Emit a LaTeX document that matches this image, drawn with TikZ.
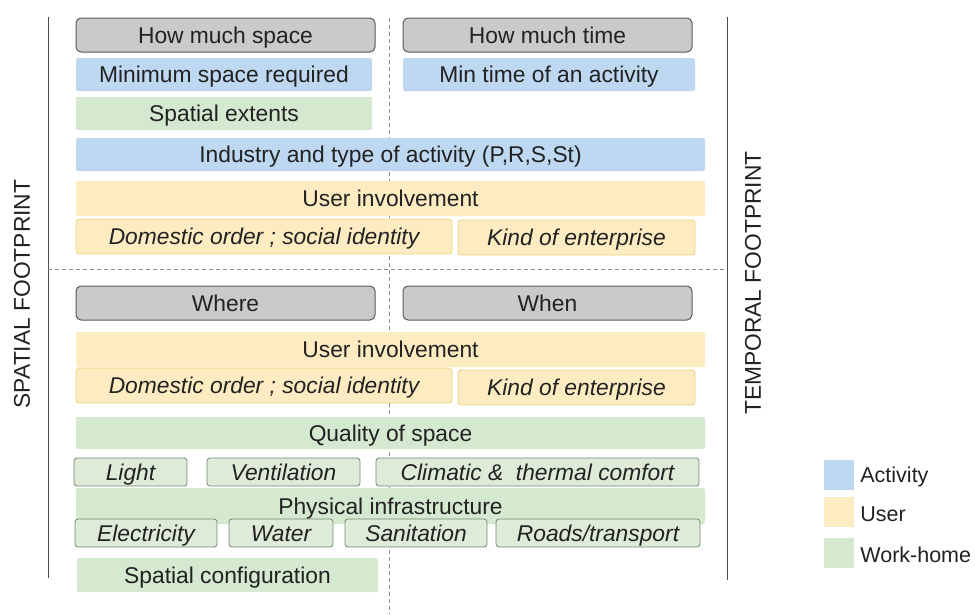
\documentclass[tikz,border=0pt]{standalone}
\usepackage{fontspec}
\setmainfont{Liberation Sans}
\usetikzlibrary{arrows,shapes}
\pgfdeclarelayer{background}
\pgfsetlayers{background,main}
\definecolor{qgray}{HTML}{CACACA}
\definecolor{qgrayline}{HTML}{595959}
\definecolor{qblue}{HTML}{BDD8F0}
\definecolor{quser}{HTML}{FDEBC2}
\definecolor{quserline}{HTML}{E9D47C}
\definecolor{qgreen}{HTML}{D5E8D0}
\definecolor{qsub}{HTML}{DEEBD9}
\definecolor{qsubline}{HTML}{718A6B}
\definecolor{qtext}{HTML}{222222}
\tikzstyle{question}=[draw=qgrayline,fill=qgray,line width=1pt,rounded corners=5pt,minimum height=34pt,inner sep=0pt,text=qtext,text height=16pt,text depth=0pt]
\tikzstyle{band}=[rounded corners=2pt,minimum height=33pt,inner sep=0pt,text=qtext,text height=16pt,text depth=0pt]
\tikzstyle{userbox}=[draw=quserline,fill=quser,line width=0.8pt,rounded corners=3pt,minimum height=35pt,inner sep=0pt,text=qtext,text height=16pt,text depth=0pt,font=\fontsize{22.8}{27}\selectfont\itshape]
\tikzstyle{subbox}=[draw=qsubline,fill=qsub,line width=0.8pt,rounded corners=3pt,minimum height=28pt,inner sep=0pt,text=qtext,text height=16pt,text depth=0pt,font=\fontsize{22.8}{27}\selectfont\itshape]
\tikzstyle{legend}=[minimum size=30pt,inner sep=0pt]
\tikzstyle{frame} = [draw,line width=1pt,qtext!80]
\tikzstyle{divider} = [draw,line width=0.6pt,black!45,dash pattern=on 4pt off 3pt]

\begin{document}
\begin{tikzpicture}[x=1pt,y=-1pt,font=\fontsize{22.8}{27}\selectfont]
    \useasboundingbox (0,0) rectangle (975,614);
    % Frame lines and dashed dividers
    \coordinate (sptop) at (48,17);
    \coordinate (spbot) at (48,578);
    \coordinate (tptop) at (727,17);
    \coordinate (tpbot) at (727,580);
    \coordinate (midleft) at (48,269);
    \coordinate (midright) at (726,269);
    \coordinate (midtop) at (389,18);
    \coordinate (midbot) at (389,614);
    \begin{pgfonlayer}{background}
        \path[frame] (sptop) -- (spbot);
        \path[frame] (tptop) -- (tpbot);
        \path[divider] (midleft) -- (midright);
        \path[divider] (midtop) -- (midbot);
    \end{pgfonlayer}
    % Axis titles
    \node[rotate=90,text=qtext] (spatial) at (22,294) {SPATIAL FOOTPRINT};
    \node[rotate=90,text=qtext] (temporal) at (753,283) {TEMPORAL FOOTPRINT};
    % Questions
    \foreach \pos/\w/\name/\txt in {{(225.5,35)/299/space/How much space}, {(547.5,35)/289/time/How much time},
        {(225.5,303)/299/where/Where}, {(547.5,303)/289/when/When}}
        \node[question,minimum width=\w] (\name) at \pos {\txt};
    % Activity bands
    \foreach \pos/\w/\name/\txt in {{(224,74.5)/296/minspace/Minimum space required}, {(549,74.5)/292/mintime/Min time of an activity},
        {(390.5,154.5)/629/industry/{Industry and type of activity (P,R,S,St)}}}
        \node[band,fill=qblue,minimum width=\w] (\name) at \pos {\txt};
    % User bands
    \foreach \pos/\name in {{(390.5,198.5)/userA}, {(390.5,349.5)/userB}}
        \node[band,fill=quser,minimum width=629,minimum height=35] (\name) at \pos {User involvement};
    \foreach \pos/\w/\name/\txt in {{(264,236.5)/376/domA/Domestic order ; social identity}, {(576.5,237.5)/237/kindA/Kind of enterprise},
        {(264,385.5)/376/domB/Domestic order ; social identity}, {(576.5,387.5)/237/kindB/Kind of enterprise}}
        \node[userbox,minimum width=\w] (\name) at \pos {\txt};
    % Work-home bands
    \foreach \pos/\w/\h/\name/\txt in {{(224,113.5)/296/33/extents/Spatial extents}, {(390.5,433)/629/32/quality/Quality of space},
        {(390.5,506)/629/36/physical/Physical infrastructure}, {(227.5,575)/301/34/config/Spatial configuration}}
        \node[band,fill=qgreen,minimum width=\w,minimum height=\h] (\name) at \pos {\txt};
    \foreach \pos/\w/\name/\txt in {{(130.5,472)/113/light/Light}, {(283.5,472)/153/vent/Ventilation},
        {(537.5,472)/323/climate/Climatic \&\ \ thermal comfort},
        {(146,533)/142/elec/Electricity}, {(281,533)/104/water/Water},
        {(416,533)/142/sanit/Sanitation}, {(598,533)/204/roads/{Roads/transport}}}
        \node[subbox,minimum width=\w] (\name) at \pos {\txt};
    % Legend
    \foreach \pos/\col/\name/\txt in {{(839,475)/qblue/act/Activity}, {(839,512)/quser/usr/User}, {(839,553)/qgreen/work/Work-home}}
    {
        \node[legend,fill=\col] (\name) at \pos {};
        \node[anchor=west,inner sep=0pt,text=qtext,font=\fontsize{21.5}{25}\selectfont] (\name label) at ([xshift=6pt,yshift=-2pt]\name.east) {\txt};
    }
\end{tikzpicture}
\end{document}
